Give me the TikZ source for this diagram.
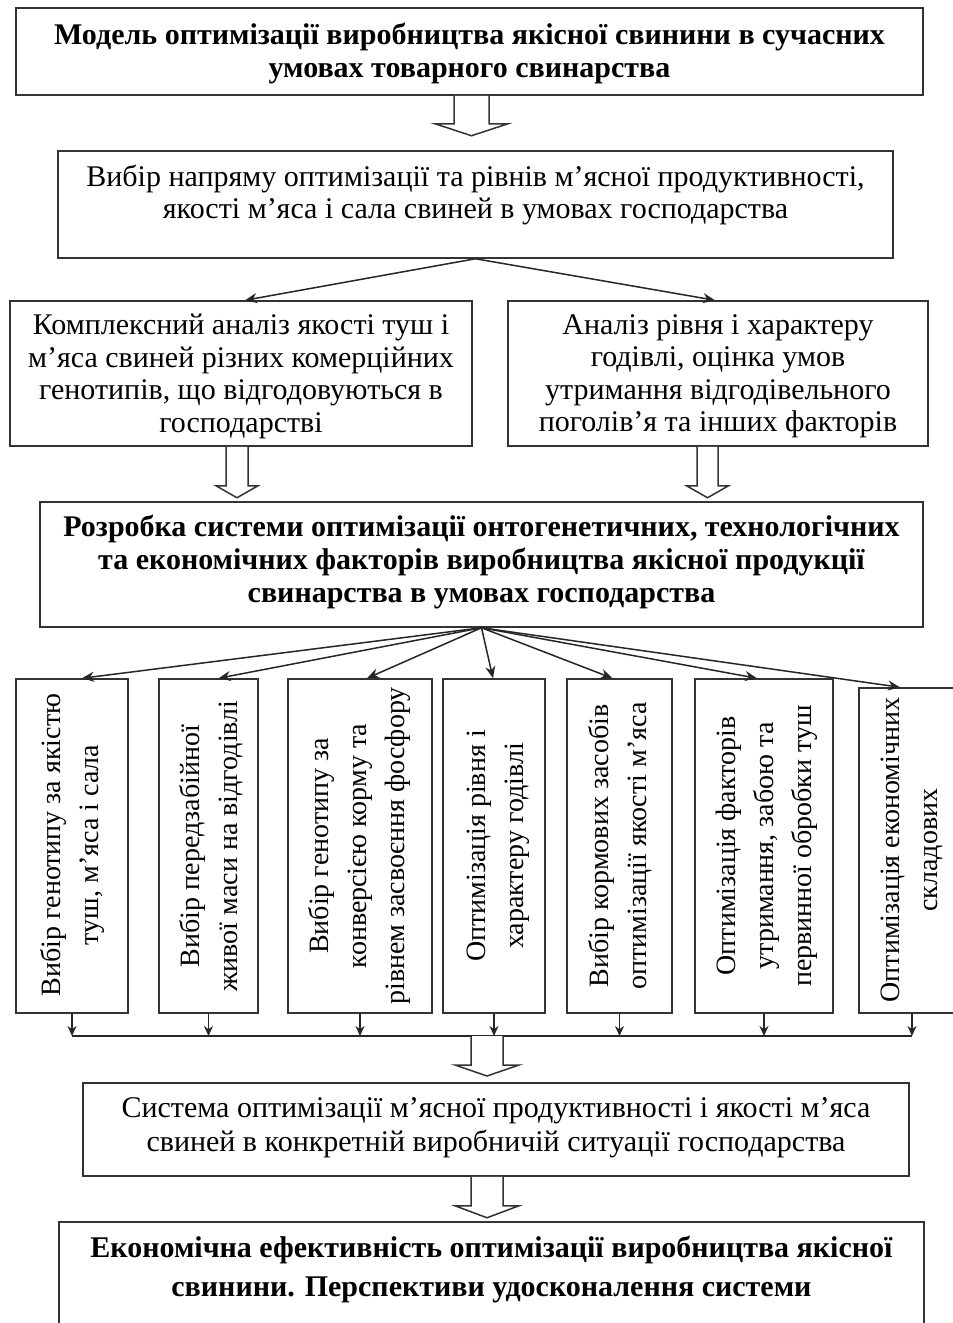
\documentclass[tikz,border=0pt]{standalone}
\usepackage{fontspec}
\setmainfont{Liberation Serif}
\usetikzlibrary{arrows.meta,calc}
\newcommand{\hollowarrow}[5]{%
  \draw[barrow] ($(#1)+(-#2,0)$) -- ++(0,#4) -- ++(#2-#3,0) -- ++(#3,#5) -- ++(#3,-#5) -- ++(#2-#3,0) -- ++(0,-#4);}
\begin{document}
\begin{tikzpicture}[x=1pt,y=-1pt,
  boxs/.style={draw=black!80, line width=1.5pt, fill=white, inner sep=0pt},
  txt/.style={align=center, inner sep=0pt, font=\fontsize{30}{32.5}\selectfont},
  txtb/.style={txt, font=\bfseries\fontsize{30}{33}\selectfont},
  vtxt/.style={txt, rotate=90, font=\fontsize{28}{38}\selectfont},
  arr/.style={draw=black!85, line width=1.5pt, -{Stealth[length=12pt,width=10pt]}},
  sarr/.style={draw=black!85, line width=1.5pt, -{Stealth[length=10pt,width=9pt]}},
  barrow/.style={draw=black!80, line width=1.5pt, fill=white, line join=miter}
]
\clip (0,0) rectangle (953,1323);
\fill[white] (0,0) rectangle (953,1323);

% top box
\node[boxs, minimum width=907, minimum height=87] (T) at (469.5,51.5) {};
\node[txtb] (Tt) at (469.5,53) {Модель оптимізації виробництва якісної свинини в сучасних\\умовах товарного свинарства};

% box 2
\node[boxs, minimum width=835, minimum height=107] (B2) at (475.5,204.5) {};
\node[txt] (B2t) at (475.5,195) {Вибір напряму оптимізації та рівнів м’ясної продуктивності,\\якості м’яса і сала свиней в умовах господарства};

% level 3
\node[boxs, minimum width=462, minimum height=145] (L) at (241,373.5) {};
\node[txt] (Lt) at (241,376.5) {Комплексний аналіз якості туш і\\м’яса свиней різних комерційних\\генотипів, що відгодовуються в\\господарстві};
\node[boxs, minimum width=420, minimum height=145] (R) at (718,373.5) {};
\node[txt] (Rt) at (718,376.5) {Аналіз рівня і характеру\\годівлі, оцінка умов\\утримання відгодівельного\\поголів’я та інших факторів};

% box 4
\node[boxs, minimum width=883, minimum height=125] (B4) at (481.5,564.5) {};
\node[txtb] (B4t) at (481.5,562) {Розробка системи оптимізації онтогенетичних, технологічних\\та економічних факторів виробництва якісної продукції\\свинарства в умовах господарства};

% vertical boxes
\node[boxs, minimum width=112, minimum height=334] (A) at (72,846) {};
\node[vtxt] (At) at (72,845) {Вибір генотипу за якістю\\туш, м’яса і сала};
\node[boxs, minimum width=99, minimum height=334] (B) at (208.5,846) {};
\node[vtxt] (Bt) at (211,846) {Вибір передзабійної\\живої маси на відгодівлі};
\node[boxs, minimum width=144, minimum height=334] (C) at (360,846) {};
\node[vtxt] (Ct) at (359,846) {Вибір генотипу за\\конверсією корму та\\рівнем засвоєння фосфору};
\node[boxs, minimum width=102, minimum height=334] (D) at (494,846) {};
\node[vtxt] (Dt) at (498,846) {Оптимізація рівня і\\характеру годівлі};
\node[boxs, minimum width=105, minimum height=334] (E) at (619.5,846) {};
\node[vtxt] (Et) at (620,846) {Вибір кормових засобів\\оптимізації якості м’яса};
\node[boxs, minimum width=138, minimum height=334] (F) at (764,846) {};
\node[vtxt] (Ft) at (767,846) {Оптимізація факторів\\утримання, забою та\\первинної обробки туш};
\node[boxs, minimum width=106, minimum height=325] (G) at (912,850.5) {};
\node[vtxt] (Gt) at (912,850) {Оптимізація економічних\\складових};

% box H
\node[boxs, minimum width=826, minimum height=93] (H) at (496,1129.5) {};
\node[txt, font=\fontsize{30}{34}\selectfont] (Ht) at (496,1127.5) {Система оптимізації м’ясної продуктивності і якості м’яса\\свиней в конкретній виробничій ситуації господарства};

% box I
\node[boxs, minimum width=865, minimum height=123] (I) at (491.5,1283.5) {};
\node[txt, font=\bfseries\fontsize{30}{39}\selectfont] (It) at (491.5,1269.5) {Економічна ефективність оптимізації виробництва якісної\\свинини. Перспективи удосконалення системи};

% hollow arrows
\coordinate (h1) at ([xshift=2pt]T.south);
\hollowarrow{h1}{17.5}{36.5}{28}{12}
\coordinate (h2) at ([xshift=-4pt]L.south);
\hollowarrow{h2}{11}{21}{39}{12}
\coordinate (h3) at ([xshift=-10.5pt]R.south);
\hollowarrow{h3}{10.5}{21}{39}{12}

% fan 1
\draw[arr] (B2.south) -- ([xshift=4pt]L.north);
\draw[arr] (B2.south) -- ([xshift=-3pt]R.north);

% fan 2
\draw[arr] (B4.south) -- ([xshift=10pt]A.north);
\draw[arr] (B4.south) -- ([xshift=10pt]B.north);
\draw[arr] (B4.south) -- ([xshift=7pt]C.north);
\draw[arr] (B4.south) -- ([xshift=-1pt]D.north);
\draw[arr] (B4.south) -- ([xshift=-7pt]E.north);
\draw[arr] (B4.south) -- ([xshift=-7pt]F.north);
\draw[arr] (B4.south) -- ([xshift=-12pt]G.north);

% bus
\coordinate (bus) at (0,1036);
\foreach \n in {A,B,C,D,E,F,G}{
  \draw[sarr] (\n.south) -- (\n.south |- bus);
}
\draw[draw=black!85, line width=1.5pt] (A.south |- bus) -- (G.south |- bus);
\coordinate (h4) at (487,1036);
\hollowarrow{h4}{16}{32}{29}{11}
\coordinate (h5) at ([xshift=-9pt]H.south);
\hollowarrow{h5}{16}{32}{29}{12}
\end{tikzpicture}
\end{document}
